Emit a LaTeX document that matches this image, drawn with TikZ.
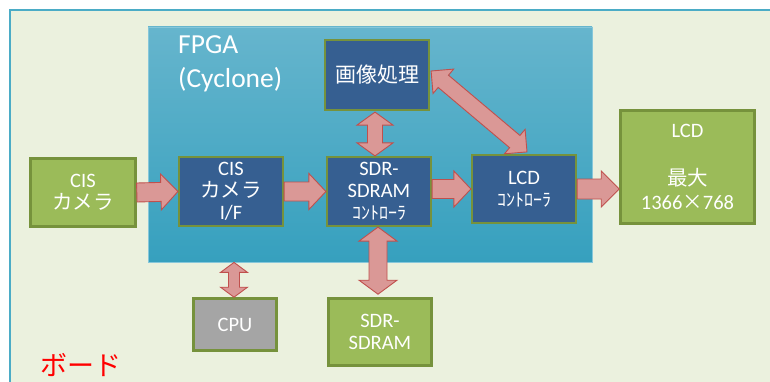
\documentclass[tikz,border=0pt]{standalone}
\usepackage{fontspec}
\setmainfont{Carlito}
\newfontfamily\jp{Noto Sans CJK JP}
\usetikzlibrary{calc}

\definecolor{boardbg}{HTML}{EBF1DE}
\definecolor{boardline}{HTML}{4BACC6}
\definecolor{fpgatop}{HTML}{66B5CD}
\definecolor{fpgabot}{HTML}{36A0BE}
\definecolor{fpgaline}{HTML}{86C7DA}
\definecolor{unitfill}{HTML}{365F91}
\definecolor{olive}{HTML}{76923C}
\definecolor{devfill}{HTML}{9BBB59}
\definecolor{cpufill}{HTML}{A5A5A5}
\definecolor{arrowfill}{HTML}{DA9896}
\definecolor{arrowline}{HTML}{C0504D}

% double-headed block arrow: from, to, shaft half width, head half width, head length
\newcommand\dblblock[5]{%
  \coordinate (ha) at ($(#1)!#5!(#2)$);
  \coordinate (hb) at ($(#2)!#5!(#1)$);
  \draw[blockarrow] (#1) -- ($(ha)!#4!90:(#2)$) -- ($(ha)!#3!90:(#2)$)
    -- ($(hb)!#3!-90:(#1)$) -- ($(hb)!#4!-90:(#1)$) -- (#2)
    -- ($(hb)!#4!90:(#1)$) -- ($(hb)!#3!90:(#1)$)
    -- ($(ha)!#3!-90:(#2)$) -- ($(ha)!#4!-90:(#2)$) -- cycle;
}
% single-headed block arrow: from, to, shaft half width, head half width, head length
\newcommand\sglblock[5]{%
  \coordinate (hb) at ($(#2)!#5!(#1)$);
  \draw[blockarrow] ($(#1)!#3!90:(#2)$) -- ($(hb)!#3!-90:(#1)$)
    -- ($(hb)!#4!-90:(#1)$) -- (#2) -- ($(hb)!#4!90:(#1)$)
    -- ($(hb)!#3!90:(#1)$) -- ($(#1)!#3!-90:(#2)$) -- cycle;
}

\begin{document}
\begin{tikzpicture}[x=1pt,y=-1pt,
  every node/.style={inner sep=0pt, text=white, align=center},
  blockarrow/.style={fill=arrowfill, draw=arrowline, line width=0.9pt, line join=miter},
  unitbox/.style={draw=olive, line width=2.2pt, fill=unitfill,
    font=\fontsize{20.5}{22}\selectfont},
  devbox/.style={draw=olive, line width=2.6pt, fill=devfill,
    font=\fontsize{20.5}{22.5}\selectfont},
  cpubox/.style={devbox, fill=cpufill}
]
\useasboundingbox (0,0) rectangle (770,382);
\clip (0,0) rectangle (770,382);
\fill[white] (0,0) rectangle (770,382);

% board
\draw[fill=boardbg, draw=boardline, line width=1.2pt] (10,10) rectangle (800,400);

% FPGA area
\node[draw=fpgaline, line width=0.8pt, top color=fpgatop, bottom color=fpgabot,
  minimum width=444pt, minimum height=235pt] (fpga) at (370,144.5) {};
\node[anchor=north west, align=left, font=\fontsize{27.5}{34}\selectfont]
  (fpgalabel) at (178,35.5) {FPGA\\(Cyclone)};

% units inside the FPGA
\node[unitbox, minimum width=104pt, minimum height=70pt] (img) at (377,75)
  {\jp\fontsize{21}{22}\selectfont 画像処理};
\node[unitbox, minimum width=104pt, minimum height=69pt] (cisif) at (231,191.5)
  {CIS\\{\jp カメラ}\\I/F};
\node[unitbox, minimum width=104pt, minimum height=69pt] (ctrl) at (379,191.5)
  {SDR-\\SDRAM\\{\jp\fontsize{18}{20}\selectfont ｺﾝﾄﾛｰﾗ}};
\node[unitbox, minimum width=104pt, minimum height=68pt] (lcdc) at (524,189)
  {LCD\\{\jp\fontsize{18}{20}\selectfont ｺﾝﾄﾛｰﾗ}};

% devices on the board
\node[devbox, minimum width=105pt, minimum height=68pt] (cis) at (83,192.5)
  {CIS\\{\jp カメラ}};
\node[devbox, minimum width=134pt, minimum height=113pt, font=\fontsize{20.5}{24}\selectfont]
  (lcd) at (687.5,167) {LCD\\ \\{\jp 最大}\\1366{\jp ×}768};
\node[cpubox, minimum width=83pt, minimum height=52pt] (cpu) at (235,324.5) {CPU};
\node[devbox, minimum width=103pt, minimum height=67pt] (sdram) at (380,332)
  {SDR-\\SDRAM};

% board label
\node[text=red, font=\jp\fontsize{27}{28}\selectfont] (board) at (81,365) {ボード};

% data paths
\sglblock{cis.east}{cisif.west}{9.5pt}{18pt}{17pt}
\sglblock{cisif.east}{ctrl.west}{9.5pt}{18pt}{17pt}
\sglblock{ctrl.east |- lcdc.west}{lcdc.west}{9.5pt}{18pt}{17pt}
\sglblock{lcdc.east}{lcd.west |- lcdc.east}{10pt}{18pt}{18pt}

\coordinate (imgb) at ($(img.south)+(-2,1)$);
\coordinate (ctrlt) at (imgb |- ctrl.north);
\dblblock{imgb}{ctrlt}{7.5pt}{18pt}{13pt}

\coordinate (imgr) at ($(img.east)+(1,-4)$);
\coordinate (lcdt) at ($(lcdc.north)+(3,-2)$);
\dblblock{imgr}{lcdt}{8pt}{16pt}{16pt}

\coordinate (fpgab) at ($(cpu.north |- fpga.south)+(-1,0)$);
\coordinate (cput) at ($(cpu.north)+(-1,0)$);
\dblblock{fpgab}{cput}{5.5pt}{13.5pt}{10pt}

\coordinate (ctrlb) at ($(ctrl.south)+(-1,0)$);
\coordinate (sdramt) at ($(ctrlb |- sdram.north)+(0,-3)$);
\dblblock{ctrlb}{sdramt}{9pt}{19pt}{14pt}
\end{tikzpicture}
\end{document}
